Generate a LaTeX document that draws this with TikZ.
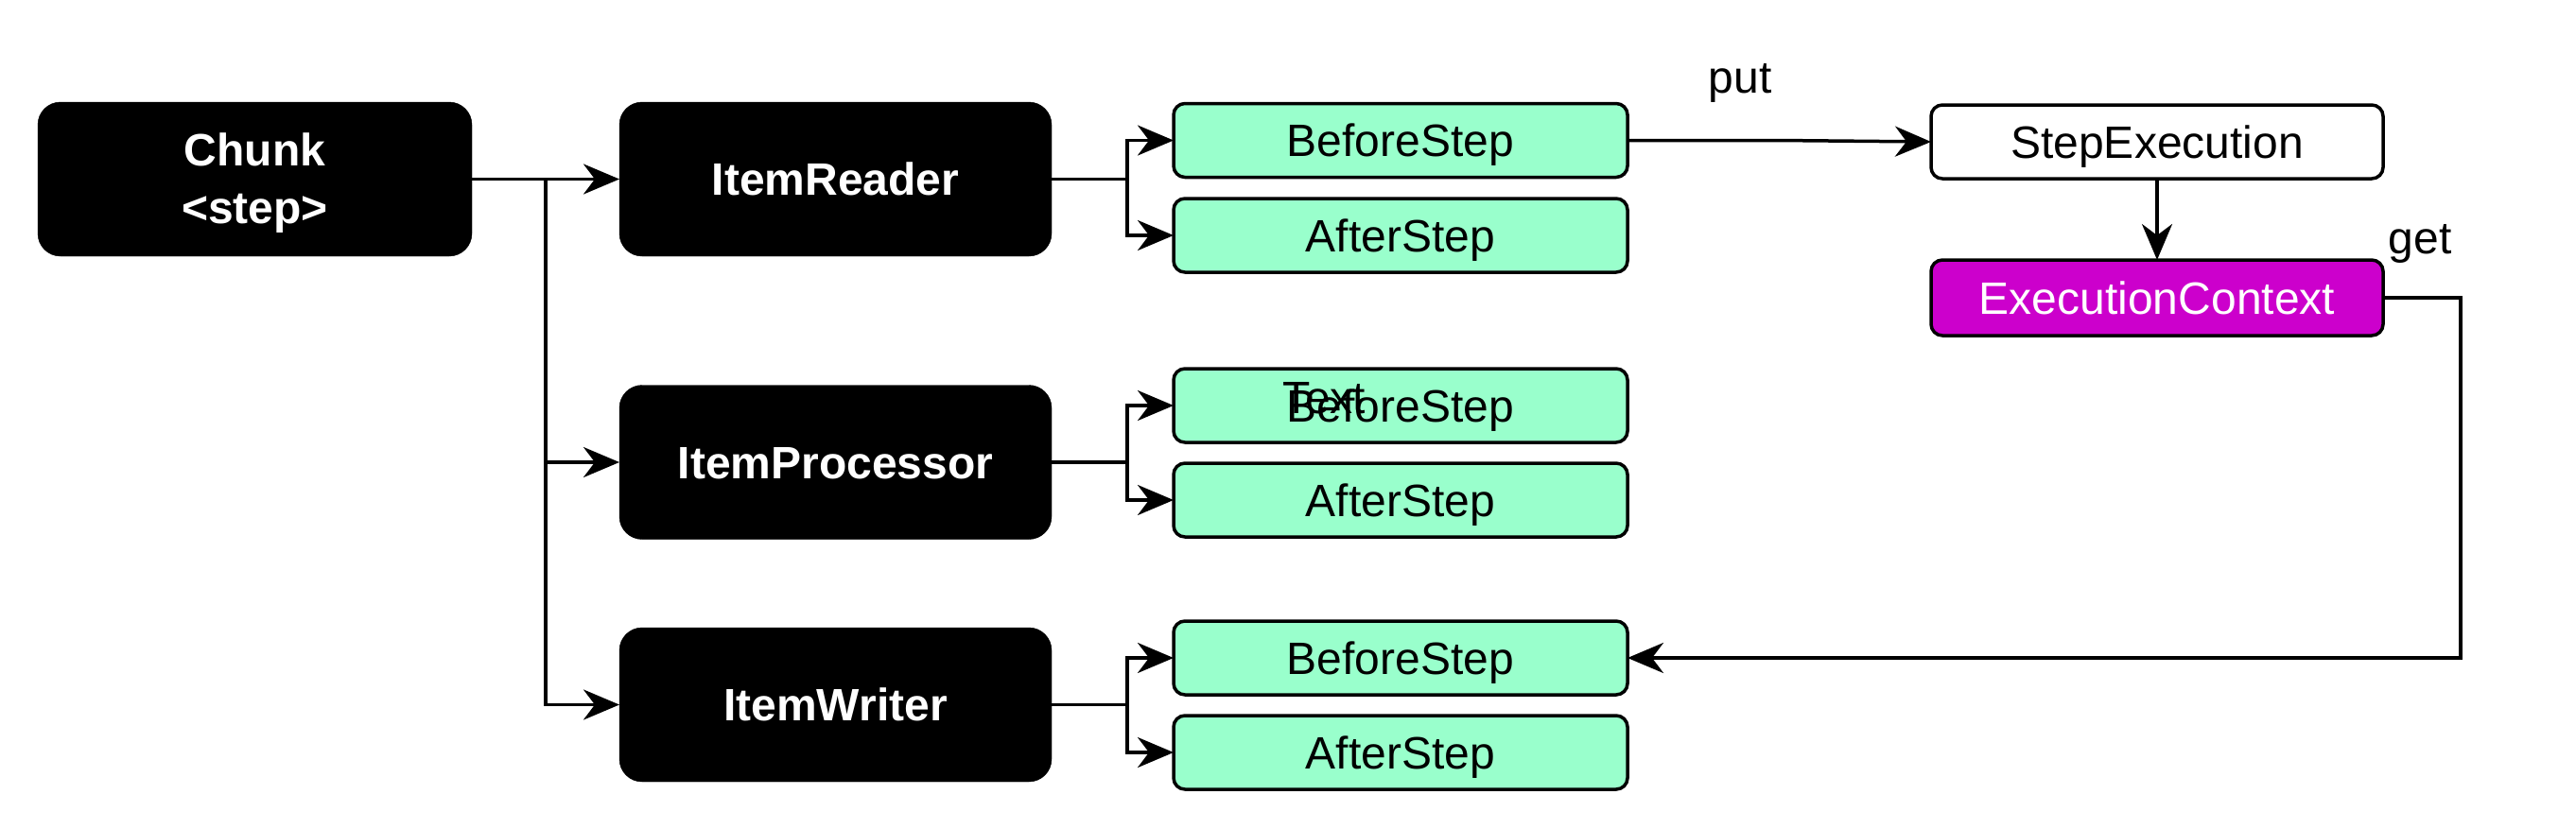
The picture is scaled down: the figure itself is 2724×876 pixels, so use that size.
\documentclass[tikz,border=0pt]{standalone}
\usepackage{fontspec}
\setmainfont{Liberation Sans}
\usetikzlibrary{arrows.meta}
\definecolor{mint}{HTML}{99FFCC}
\definecolor{mag}{HTML}{CC00CC}
\begin{document}
\begin{tikzpicture}[x=1pt,y=-1pt,
  every node/.style={font=\fontsize{48}{60}\selectfont, inner sep=0pt, outer sep=0pt},
  oneline/.style={text height=44pt, text depth=10pt},
  blackbox/.style={rectangle, rounded corners=24pt, fill=black, draw=black, text=white,
     font=\fontsize{48}{61}\selectfont\bfseries, minimum width=457pt, minimum height=163pt, align=center},
  greenbox/.style={oneline, rectangle, rounded corners=12pt, fill=mint, draw=black, line width=3.5pt,
     minimum width=480pt, minimum height=78pt},
  whitebox/.style={oneline, rectangle, rounded corners=12pt, fill=white, draw=black, line width=3.5pt,
     minimum width=478pt, minimum height=78pt},
  magbox/.style={oneline, rectangle, rounded corners=12pt, fill=mag, draw=black, line width=3.5pt,
     minimum width=478pt, minimum height=80pt, text=white},
  arr/.style={line width=3.5pt, -{Stealth[length=38pt, width=32pt, inset=12pt]}},
  plain/.style={line width=3.5pt}]
\useasboundingbox (0,0) rectangle (2724,876);

\node[blackbox, minimum width=459pt] (ch) at (269.5,189.5) {\rule{0pt}{42pt}Chunk\\<step>};
\node[blackbox, oneline] (ir) at (883.5,189.5) {ItemReader};
\node[blackbox, oneline] (ip) at (883.5,489) {ItemProcessor};
\node[blackbox, oneline] (iw) at (883.5,745.5) {ItemWriter};

\node[greenbox] (b1) at (1481,148.5) {BeforeStep};
\node[greenbox] (a1) at (1481,249) {AfterStep};
\node[greenbox] (b2) at (1481,429) {BeforeStep};
\node[greenbox] (a2) at (1481,529) {AfterStep};
\node[greenbox] (b3) at (1481,696) {BeforeStep};
\node[greenbox] (a3) at (1481,796) {AfterStep};

\node[whitebox] (se) at (2281,150) {StepExecution};
\node[magbox] (ec) at (2281,315) {ExecutionContext};

\node (put) at (1840,88) {put};
\node (get) at (2559,258) {get};
\node (txt) at (1400,421) {Text};

% chunk to items
\draw[arr] (ch.east) -- (ir.west);
\coordinate (j) at (577,189.5);
\draw[arr] (j) |- (ip.west);
\draw[arr] (j) |- (iw.west);

% items to listeners
\coordinate (k1) at (1192,189.5);
\coordinate (k2) at (1192,489);
\coordinate (k3) at (1192,745.5);
\draw[plain] (ir.east) -- (k1);
\draw[arr] (k1) |- (b1.west);
\draw[arr] (k1) |- (a1.west);
\draw[plain] (ip.east) -- (k2);
\draw[arr] (k2) |- (b2.west);
\draw[arr] (k2) |- (a2.west);
\draw[plain] (iw.east) -- (k3);
\draw[arr] (k3) |- (b3.west);
\draw[arr] (k3) |- (a3.west);

% put / get
\coordinate (p1) at (1880,148.5);
\draw[arr] (b1.east) -- (p1) -- (se.west);
\draw[arr] (se.south) -- (ec.north);
\coordinate (g1) at (2602,315);
\draw[arr] (ec.east) -- (g1) |- (b3.east);
\end{tikzpicture}
\end{document}
